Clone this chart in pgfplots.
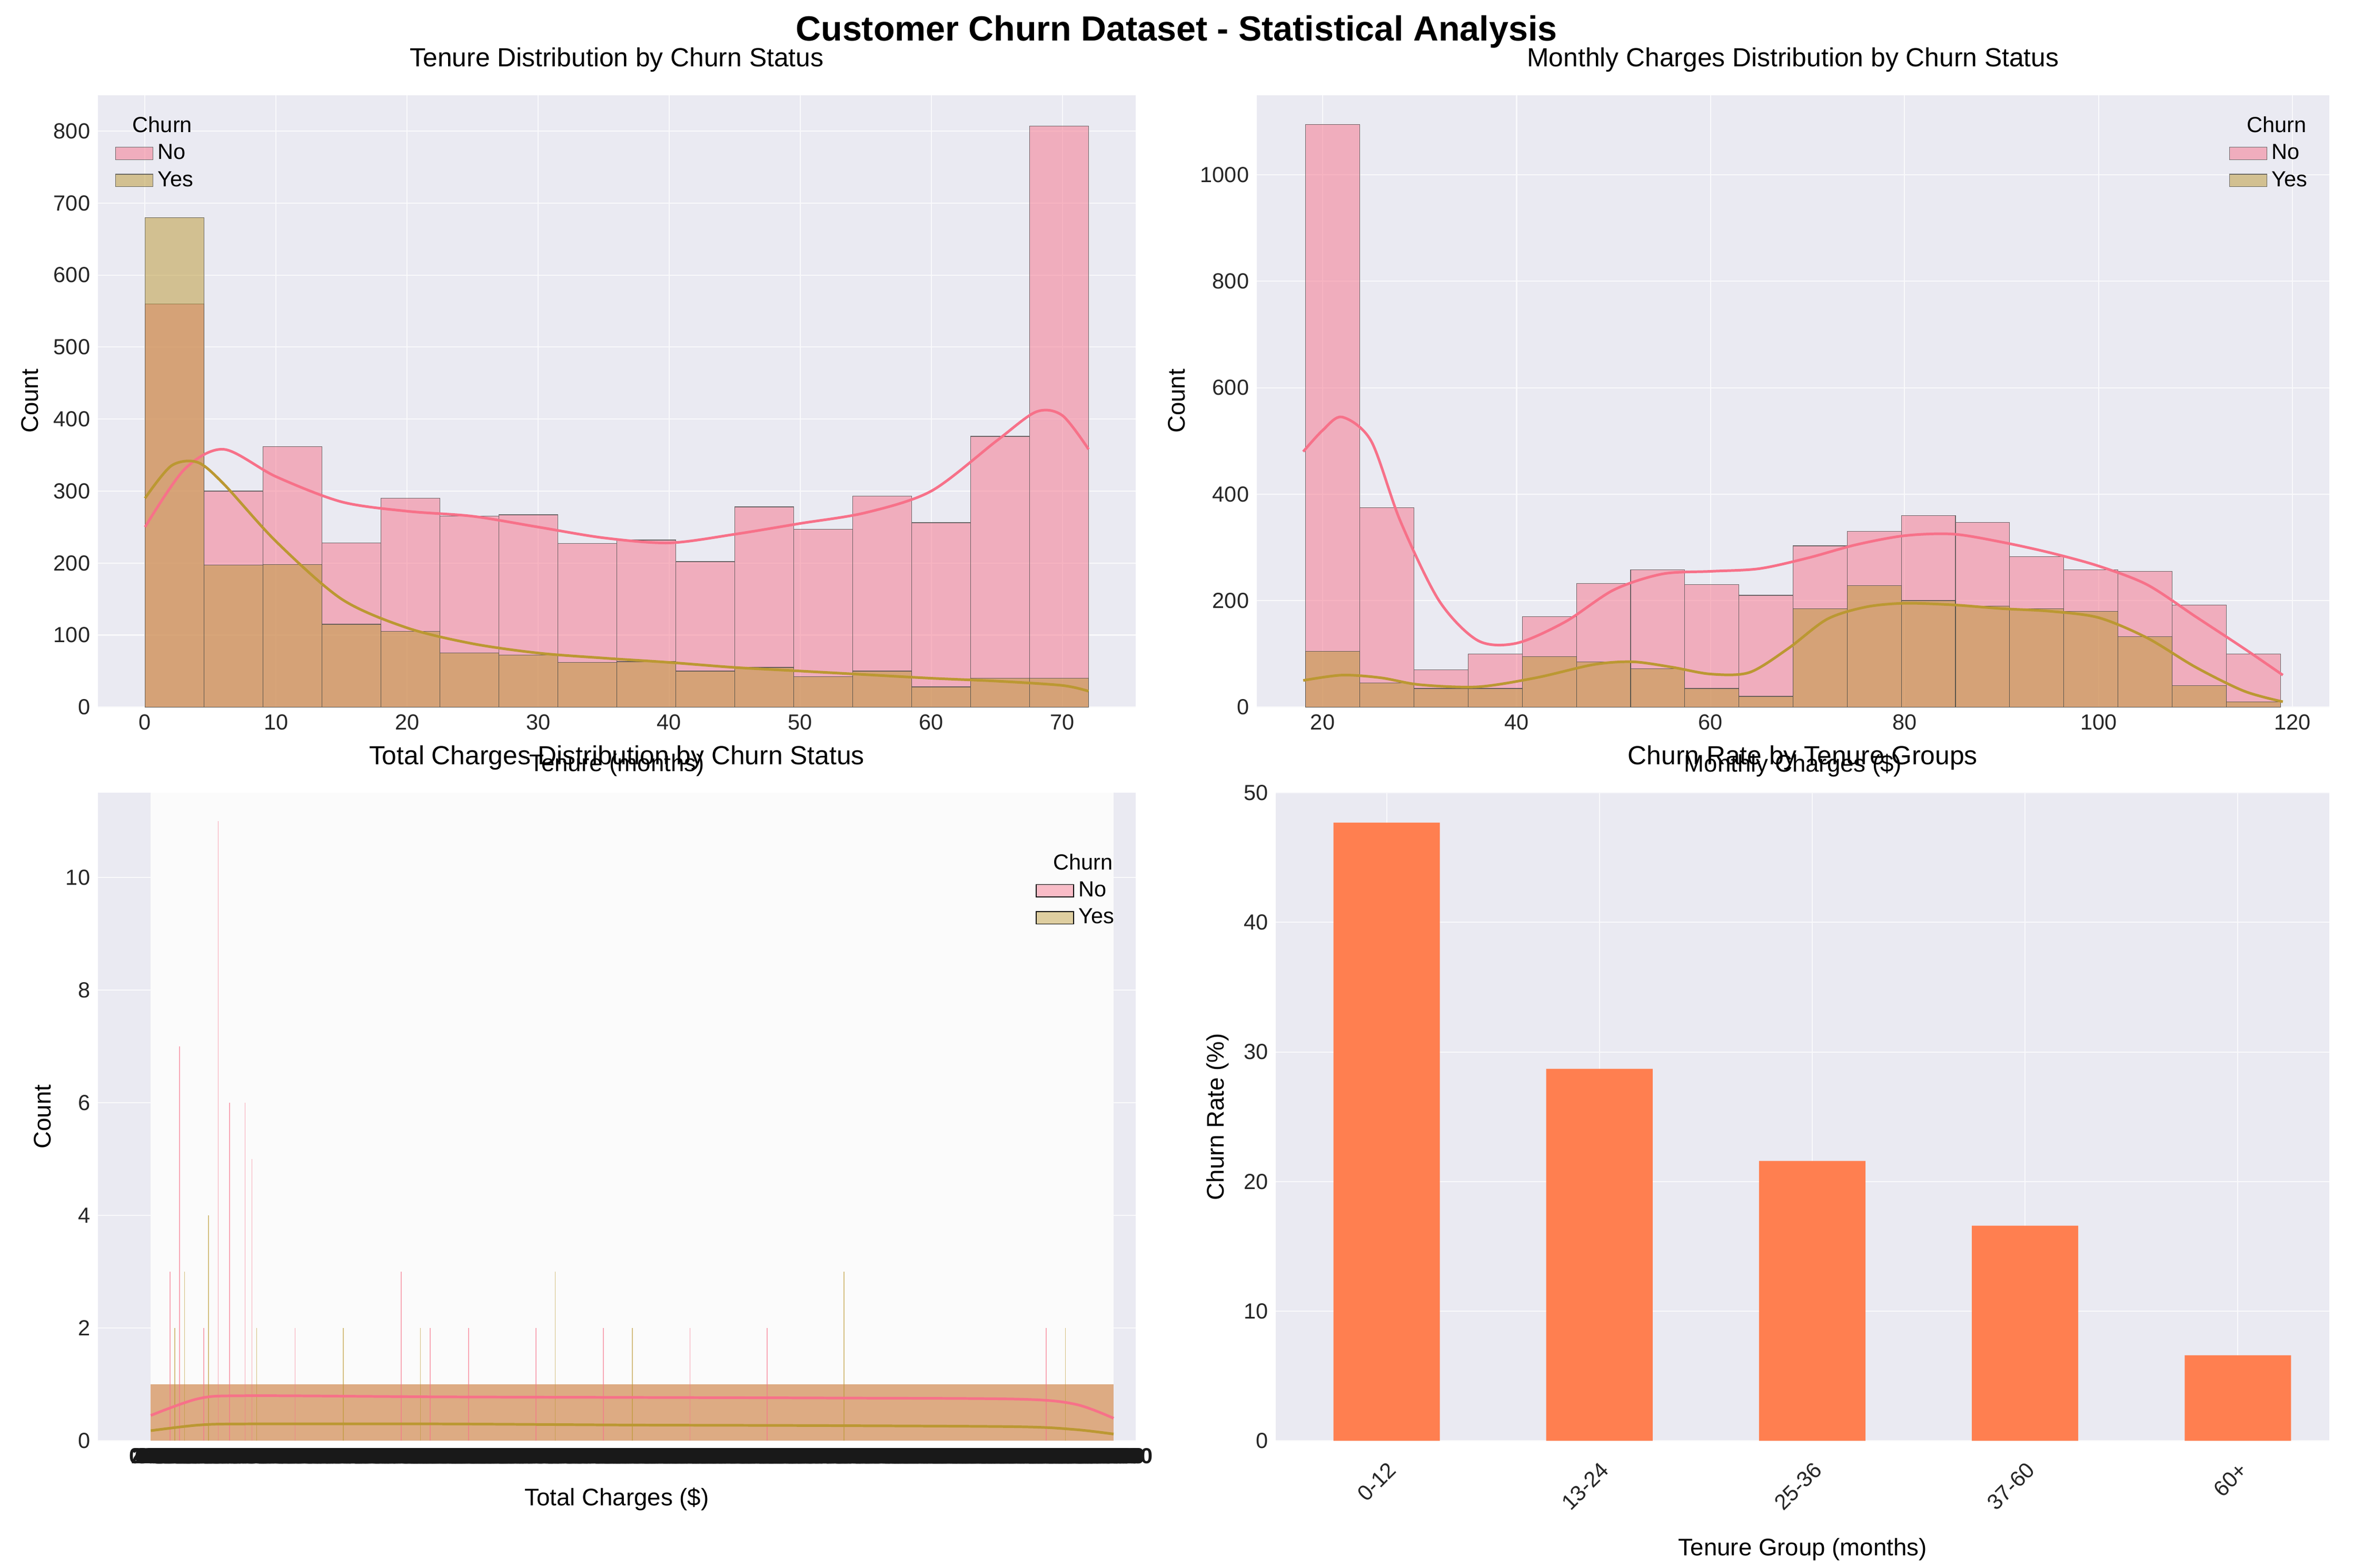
\documentclass[border=0pt]{standalone}
\usepackage{pgfplots}
\pgfplotsset{compat=1.18}
\usepackage{fontspec}
\setmainfont{Liberation Sans}
\definecolor{bg}{HTML}{EAEAF2}
\definecolor{cno}{HTML}{F77189}
\definecolor{cyes}{HTML}{BB9832}
\definecolor{coral}{HTML}{FF7F50}
\pgfplotsset{
  sb/.style={scale only axis, anchor=south west,
    axis background/.style={fill=bg},
    axis line style={draw=none}, tick style={draw=none},
    grid=major, major grid style={white!70!bg, line width=0.5pt},
    /pgf/number format/assume math mode=true,
    /pgf/number format/1000 sep={},
    tick label style={font=\fontsize{10}{12}\selectfont, text=black!85},
    label style={font=\fontsize{11}{13}\selectfont},
    xlabel style={yshift=-4pt},
    title style={font=\fontsize{12}{14}\selectfont, yshift=1pt},
    ymin=0, axis on top=false},
  hno/.style={ybar interval, fill=cno, fill opacity=0.5, draw=black!70, draw opacity=0.8, line width=0.3pt, area legend},
  hyes/.style={ybar interval, fill=cyes, fill opacity=0.5, draw=black!70, draw opacity=0.8, line width=0.3pt, area legend},
  lg/.style={legend style={draw=none, fill=none, font=\fontsize{10}{12}\selectfont, cells={anchor=west}}},
}
\begin{document}
\begin{tikzpicture}
\fill[white] (0,0) rectangle (378.6mm,250.3mm);
\node[font=\bfseries\fontsize{16}{19}\selectfont] at (189.3mm,245.2mm) {Customer Churn Dataset - Statistical Analysis};

% TL
\begin{axis}[sb, at={(15.74mm,136.5mm)}, width=167mm, height=98.5mm,
  xmin=-3.6, xmax=75.6, ymax=850, xtick={0,10,...,70},
  title={Tenure Distribution by Churn Status}, xlabel={Tenure (months)}, ylabel={Count},
  lg, legend style={at={(0.01,0.98)}, anchor=north west}]
\addlegendimage{empty legend}\addlegendentry{\hspace{-4mm}Churn}
\addplot[hno] coordinates {(0,560)(4.5,300)(9,362)(13.5,228)(18,290)(22.5,265)(27,267)(31.5,227)(36,232)(40.5,202)(45,278)(49.5,247)(54,293)(58.5,256)(63,376)(67.5,807)(72,807)};
\addlegendentry{No}
\addplot[hyes] coordinates {(0,680)(4.5,197)(9,198)(13.5,115)(18,105)(22.5,75)(27,72)(31.5,62)(36,63)(40.5,50)(45,55)(49.5,42)(54,50)(58.5,28)(63,40)(67.5,40)(72,40)};
\addlegendentry{Yes}
\addplot[cno, line width=1.2pt, smooth, forget plot] coordinates {(0,250)(3,330)(6,358)(10,320)(15,285)(20,272)(25,265)(30,250)(35,235)(40,228)(45,240)(50,255)(55,270)(60,300)(65,370)(68,410)(70,405)(72,358)};
\addplot[cyes, line width=1.2pt, smooth, forget plot] coordinates {(0,290)(2,335)(4,340)(6,310)(10,230)(15,150)(20,110)(25,88)(30,75)(35,68)(40,62)(45,55)(50,50)(55,45)(60,40)(65,36)(70,30)(72,22)};
\end{axis}

% TR
\begin{axis}[sb, at={(202.2mm,136.5mm)}, width=172.6mm, height=98.5mm,
  xmin=13.2, xmax=123.8, ymax=1150, xtick={20,40,...,120}, ytick={0,200,...,1000},
  title={Monthly Charges Distribution by Churn Status}, xlabel={Monthly Charges (\$)}, ylabel={Count},
  lg, legend style={at={(0.99,0.98)}, anchor=north east}]
\addlegendimage{empty legend}\addlegendentry{\hspace{-4mm}Churn}
\addplot[hno] coordinates {(18.25,1095)(23.83,375)(29.42,70)(35,100)(40.58,170)(46.17,232)(51.75,258)(57.33,230)(62.92,210)(68.5,303)(74.08,330)(79.67,360)(85.25,347)(90.83,283)(96.42,258)(102,255)(107.58,192)(113.17,100)(118.75,100)};
\addlegendentry{No}
\addplot[hyes] coordinates {(18.25,105)(23.83,45)(29.42,35)(35,35)(40.58,95)(46.17,85)(51.75,72)(57.33,35)(62.92,20)(68.5,185)(74.08,228)(79.67,200)(85.25,190)(90.83,185)(96.42,180)(102,132)(107.58,40)(113.17,10)(118.75,10)};
\addlegendentry{Yes}
\addplot[cno, line width=1.2pt, smooth, forget plot] coordinates {(18,480)(20,520)(22,545)(25,500)(28,350)(32,200)(36,125)(40,120)(45,160)(50,220)(55,250)(60,255)(65,260)(70,280)(75,305)(80,322)(85,325)(90,310)(95,290)(100,265)(105,230)(110,170)(115,110)(119,60)};
\addplot[cyes, line width=1.2pt, smooth, forget plot] coordinates {(18,50)(22,60)(26,55)(30,42)(36,38)(42,55)(48,80)(52,85)(56,75)(60,62)(64,65)(68,110)(72,165)(76,188)(80,195)(85,192)(90,185)(95,180)(100,168)(105,130)(110,75)(115,30)(119,10)};
\end{axis}

% BL
\begin{axis}[sb, at={(15.74mm,18.4mm)}, width=167mm, height=104.3mm,
  xmin=-55, xmax=1023, ymax=11.5, ytick={0,2,...,10}, xmajorgrids=false,
  xtick={0,2,...,1000}, xticklabel={\pgfmathprintnumber[fixed,fixed zerofill,precision=2]{\tick}},
  x tick label style={font=\bfseries\fontsize{10}{12}\selectfont, text=black!90},
  title={Total Charges Distribution by Churn Status}, xlabel={Total Charges (\$)}, ylabel={Count},
  lg, legend style={at={(0.99,0.92)}, anchor=north east}]
\addplot[draw=none, fill=white!97!gray, forget plot] coordinates {(0,11.5)(1000,11.5)} \closedcycle;
\addlegendimage{empty legend}\addlegendentry{\hspace{-4mm}Churn}
\addplot[draw=none, fill=cno, fill opacity=0.45, area legend] coordinates {(0,1)(1000,1)} \closedcycle;
\addlegendentry{No}
\addplot[draw=none, fill=cyes, fill opacity=0.45, area legend] coordinates {(0,1)(1000,1)} \closedcycle;
\addlegendentry{Yes}
\addplot[ycomb, cno, opacity=0.6, line width=0.4pt, mark=none, forget plot] coordinates {(20,3)(30,7)(55,2)(70,11)(82,6)(98,6)(105,5)(150,2)(260,3)(290,2)(330,2)(400,2)(470,2)(560,2)(640,2)(930,2)};
\addplot[ycomb, cyes, opacity=0.6, line width=0.4pt, mark=none, forget plot] coordinates {(25,2)(35,3)(60,4)(110,2)(200,2)(280,2)(420,3)(500,2)(720,3)(950,2)};
\addplot[cno, line width=1.2pt, smooth, forget plot] coordinates {(0,0.45)(50,0.75)(100,0.8)(300,0.78)(500,0.77)(700,0.76)(900,0.74)(960,0.65)(1000,0.4)};
\addplot[cyes, line width=1.2pt, smooth, forget plot] coordinates {(0,0.18)(50,0.28)(100,0.3)(300,0.3)(500,0.28)(700,0.27)(900,0.25)(960,0.2)(1000,0.12)};
\end{axis}

% BR
\begin{axis}[sb, at={(205.3mm,18.4mm)}, width=169.5mm, height=104.3mm,
  xmin=-0.52, xmax=4.43, ymax=50, xtick={0,1,2,3,4}, ytick={0,10,...,50},
  xticklabels={0-12,13-24,25-36,37-60,60+}, x tick label style={rotate=45, anchor=north east},
  title={Churn Rate by Tenure Groups}, xlabel={Tenure Group (months)}, ylabel={Churn Rate (\%)},
  ybar, bar width=0.5, bar shift=0pt]
\addplot[fill=coral, draw=none] coordinates {(0,47.7)(1,28.7)(2,21.6)(3,16.6)(4,6.6)};
\end{axis}
\end{tikzpicture}
\end{document}
